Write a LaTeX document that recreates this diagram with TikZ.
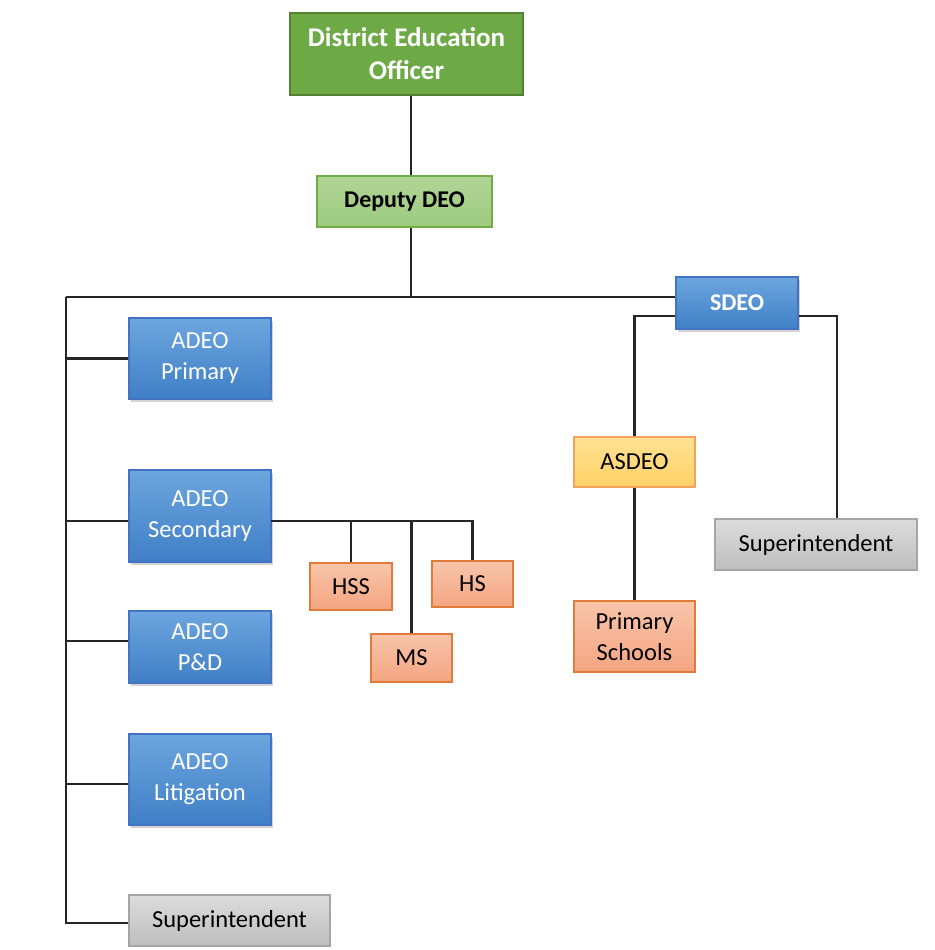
\documentclass[tikz,border=0pt]{standalone}
\usepackage{fontspec}
\setmainfont{Carlito}
\usetikzlibrary{positioning,calc,shadows}
\definecolor{ink}{HTML}{262626}
\definecolor{deogreen}{HTML}{6DAA45}
\definecolor{deoline}{HTML}{548235}
\definecolor{deptop}{HTML}{B0D596}
\definecolor{depbot}{HTML}{9ECB80}
\definecolor{depline}{HTML}{70AD47}
\definecolor{bluetop}{HTML}{6DA6DF}
\definecolor{bluebot}{HTML}{3F7FC6}
\definecolor{blueline}{HTML}{4472C4}
\definecolor{ambertop}{HTML}{FFE293}
\definecolor{amberbot}{HTML}{FFD166}
\definecolor{amberline}{HTML}{F4A15D}
\definecolor{peachtop}{HTML}{F8C5AA}
\definecolor{peachbot}{HTML}{F4A581}
\definecolor{peachline}{HTML}{E07B39}
\definecolor{greytop}{HTML}{DCDCDC}
\definecolor{greybot}{HTML}{BEBEBE}
\definecolor{greyline}{HTML}{A5A5A5}
\tikzset{
  every node/.style={font=\fontsize{24.5}{31}\selectfont},
  box/.style={draw, line width=1.5pt, align=center, inner sep=0pt},
  deobox/.style={box, fill=deogreen, draw=deoline, text=white, font=\fontsize{27}{33}\selectfont\bfseries},
  depbox/.style={box, top color=deptop, bottom color=depbot, draw=depline, font=\fontsize{24}{28}\selectfont\bfseries},
  bluebox/.style={box, top color=bluetop, bottom color=bluebot, draw=blueline, text=white,
    drop shadow={opacity=0.35, shadow xshift=2pt, shadow yshift=-3pt}},
  amberbox/.style={box, top color=ambertop, bottom color=amberbot, draw=amberline},
  peachbox/.style={box, top color=peachtop, bottom color=peachbot, draw=peachline},
  greybox/.style={box, top color=greytop, bottom color=greybot, draw=greyline},
  link/.style={line width=2.8pt, draw=ink},
}
\begin{document}
\begin{tikzpicture}[x=1pt,y=-1pt]
\useasboundingbox (0,0) rectangle (934,950);
% top
\node[deobox, minimum width=233pt, minimum height=82pt] (deo) at (406.5,54) {District Education\\Officer};
\node[depbox, minimum width=175pt, minimum height=51pt] (dep) at (404.5,201.5) {Deputy DEO};
\node[bluebox, minimum width=122pt, minimum height=52pt, font=\fontsize{24}{28}\selectfont\bfseries] (sdeo) at (737,303) {SDEO};
\coordinate (bus) at (411,297);
\coordinate (trunk) at (66,297);
% left column
\node[bluebox, minimum width=142pt, minimum height=81pt] (adpri) at (200,358.5) {ADEO\\Primary};
\node[bluebox, minimum width=142pt, minimum height=92pt] (adsec) at (200,516) {ADEO\\Secondary};
\node[bluebox, minimum width=142pt, minimum height=72pt] (adpd) at (200,647) {ADEO\\P\&D};
\node[bluebox, minimum width=142pt, minimum height=91pt] (adlit) at (200,779.5) {ADEO\\Litigation};
\node[greybox, minimum width=201pt, minimum height=51pt] (supl) at (229.5,920.5) {Superintendent};
\coordinate (secbus) at (271,521);
\coordinate (pdin) at ([yshift=6pt]adpd.west);
\coordinate (litin) at ([yshift=-4.5pt]adlit.west);
\coordinate (supin) at ([yshift=-2.5pt]supl.west);
% schools
\node[peachbox, minimum width=82pt, minimum height=47pt] (hss) at (351,586.5) {HSS};
\node[peachbox, minimum width=81pt, minimum height=46pt] (hs) at (472.5,584) {HS};
\node[peachbox, minimum width=81pt, minimum height=48pt] (ms) at (411.5,658) {MS};
% SDEO side
\node[amberbox, minimum width=121pt, minimum height=50pt] (asdeo) at (634.5,462) {ASDEO};
\node[peachbox, minimum width=121pt, minimum height=71pt] (prisch) at (634.5,636.5) {Primary\\Schools};
\node[greybox, minimum width=202pt, minimum height=51pt] (supr) at (816,544.5) {Superintendent};
\coordinate (sl) at (636,316);
\coordinate (sr) at (837,316);
% connectors
\draw[link] (deo.south -| bus) -- (dep.north -| bus);
\draw[link] (dep.south -| bus) -- (bus);
\draw[link] (trunk) -- (trunk -| sdeo.west);
\draw[link] (trunk) -- (trunk |- supin) -- (supin);
\draw[link] (trunk |- adpri) -- (adpri.west);
\draw[link] (trunk |- secbus) -- (secbus -| adsec.west);
\draw[link] (trunk |- pdin) -- (pdin);
\draw[link] (trunk |- litin) -- (litin);
\draw[link] (secbus) -- (secbus -| hs.north) -- (hs.north);
\draw[link] (secbus -| hss.north) -- (hss.north);
\draw[link] (secbus -| ms.north) -- (ms.north);
\draw[link] (sdeo.west |- sl) -| (asdeo.north);
\draw[link] (asdeo.south) -- (prisch.north);
\draw[link] (sdeo.east |- sr) -- (sr) -- (sr |- supr.north);
\end{tikzpicture}
\end{document}
